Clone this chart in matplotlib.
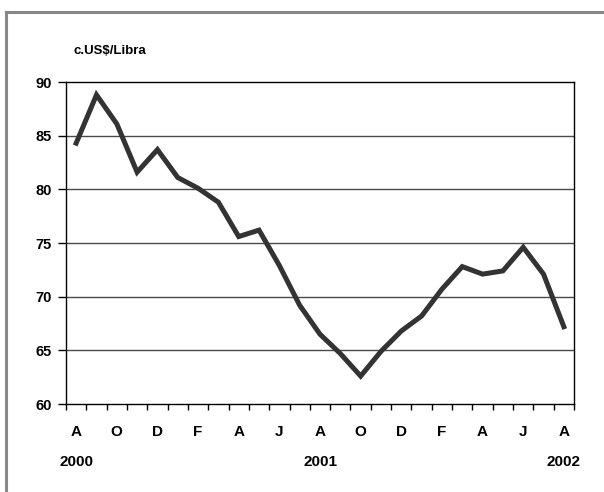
import matplotlib
matplotlib.use("Agg")
import matplotlib.pyplot as plt
from matplotlib import font_manager
import matplotlib.transforms as mtransforms
from matplotlib.lines import Line2D

names = {f.name for f in font_manager.fontManager.ttflist}
fam = ["Liberation Sans Narrow"] if "Liberation Sans Narrow" in names else ["Liberation Sans"]
plt.rcParams['font.family'] = fam + ["DejaVu Sans"]

month_labels = ["A", "O", "D", "F", "A", "J", "A", "O", "D", "F", "A", "J", "A"]
year_labels = {0: "2000", 12: "2001", 24: "2002"}
prices = [84.3, 88.8, 86.1, 81.6, 83.7, 81.1, 80.1, 78.8, 75.6, 76.2, 72.9, 69.2,
          66.5, 64.7, 62.6, 64.9, 66.8, 68.2, 70.7, 72.8, 72.1, 72.4, 74.6, 72.1, 67.2]
yticks = [60, 65, 70, 75, 80, 85, 90]
unit_label = "c.US$/Libra"

fig = plt.figure(figsize=(6.04, 4.92), dpi=100)
ax = fig.add_axes([66/604, 1-404/492, 508/604, 322/492])

x = list(range(len(prices)))
ax.set_xlim(-0.5, len(prices) - 0.5)
ax.set_ylim(60, 90)
for v in yticks[1:-1]:
    ax.axhline(v, color="#4a4a4a", lw=1.0, zorder=1)
ax.plot(x, prices, color="#333333", lw=3.6, solid_joinstyle="miter", zorder=3)

ax.set_yticks(yticks)
ax.set_yticklabels([str(v) for v in yticks], fontsize=10.5, fontweight="bold")
ax.tick_params(axis="y", direction="out", length=6, width=1, pad=4)

ax.set_xticks([i * 2 for i in range(len(month_labels))])
ax.set_xticklabels(month_labels, fontsize=11, fontweight="bold")
ax.tick_params(axis="x", which="major", length=0, pad=15)
ax.set_xticks([i - 0.5 for i in range(len(prices) + 1)], minor=True)
ax.tick_params(axis="x", which="minor", direction="out", length=4, width=1)

trans = mtransforms.blended_transform_factory(ax.transData, fig.transFigure)
for i, lab in year_labels.items():
    ax.text(i, 1 - 462/492, lab, transform=trans, ha="center", va="center",
            fontsize=11, fontweight="bold")

for s in ax.spines.values():
    s.set_color("black")
    s.set_linewidth(1.0)

fig.text(73/604, 1 - 51/492, unit_label, ha="left", va="center", fontsize=9.5, fontweight="bold")

# partial frame (top and left)
fig.add_artist(Line2D([6/604, 1], [1 - 12/492, 1 - 12/492], transform=fig.transFigure,
                      color="#888888", lw=2.2))
fig.add_artist(Line2D([6/604, 6/604], [0, 1 - 12/492], transform=fig.transFigure,
                      color="#888888", lw=2.2))

fig.savefig("out.png", dpi=100, facecolor="white")
